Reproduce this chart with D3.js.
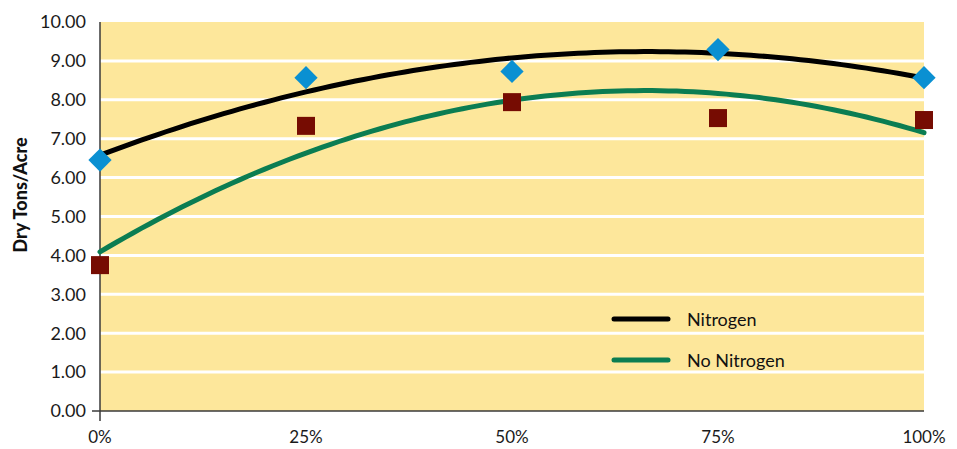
<!DOCTYPE html>
<html>
<head>
<meta charset="utf-8">
<script src="https://cdn.jsdelivr.net/npm/d3@7"></script>
<style>
  html, body { margin: 0; padding: 0; background: #ffffff; }
  svg { display: block; font-family: Lato, "Open Sans", sans-serif; }
</style>
</head>
<body>
<svg id="chart" width="957" height="449"></svg>
<script>
// Nitrogen application rate (share of recommended) and yield in dry tons per acre
const rates = [0, 25, 50, 75, 100];
const rateLabels = ["0%", "25%", "50%", "75%", "100%"];
const nitrogenYield = [6.45, 8.57, 8.73, 9.29, 8.57];
const noNitrogenYield = [3.75, 7.33, 7.94, 7.53, 7.48];
const yTicks = [0, 1, 2, 3, 4, 5, 6, 7, 8, 9, 10];

const svg = d3.select("#chart");
const margin = { left: 100, right: 33, top: 22, bottom: 38 };
const W = 957, H = 449;

const x = d3.scaleLinear().domain([0, 100]).range([margin.left, W - margin.right]);
const y = d3.scaleLinear().domain([0, 10]).range([H - margin.bottom, margin.top]);

// Least-squares quadratic trendline through a series
function quadFit(xs, ys) {
  let s = [0, 0, 0, 0, 0], t = [0, 0, 0];
  xs.forEach((xv, i) => {
    for (let k = 0; k <= 4; k++) s[k] += Math.pow(xv, k);
    for (let k = 0; k <= 2; k++) t[k] += Math.pow(xv, k) * ys[i];
  });
  const A = [[s[0], s[1], s[2], t[0]], [s[1], s[2], s[3], t[1]], [s[2], s[3], s[4], t[2]]];
  for (let i = 0; i < 3; i++) {
    for (let j = i + 1; j < 3; j++) {
      const f = A[j][i] / A[i][i];
      for (let k = i; k < 4; k++) A[j][k] -= f * A[i][k];
    }
  }
  const c = [0, 0, 0];
  for (let i = 2; i >= 0; i--) {
    let v = A[i][3];
    for (let k = i + 1; k < 3; k++) v -= A[i][k] * c[k];
    c[i] = v / A[i][i];
  }
  return xv => c[0] + c[1] * xv + c[2] * xv * xv;
}

// Plot background
svg.append("rect")
  .attr("x", x(0)).attr("y", y(10))
  .attr("width", x(100) - x(0)).attr("height", y(0) - y(10))
  .attr("fill", "#fde79b");

// White horizontal gridlines
svg.append("g").selectAll("line")
  .data(yTicks.filter(d => d > 0 && d < 10))
  .join("line")
  .attr("x1", x(0)).attr("x2", x(100))
  .attr("y1", d => y(d)).attr("y2", d => y(d))
  .attr("stroke", "#ffffff").attr("stroke-width", 3);

// Y axis labels
svg.append("g").selectAll("text")
  .data(yTicks)
  .join("text")
  .attr("x", x(0) - 14).attr("y", d => y(d))
  .attr("dy", "0.35em")
  .attr("text-anchor", "end")
  .attr("font-size", 18)
  .attr("fill", "#1a1a1a")
  .text(d => d.toFixed(2));

// X axis labels
svg.append("g").selectAll("text")
  .data(rates)
  .join("text")
  .attr("x", d => x(d)).attr("y", y(0) + 32)
  .attr("text-anchor", "middle")
  .attr("font-size", 17)
  .attr("fill", "#1a1a1a")
  .text((d, i) => rateLabels[i]);

// Axis lines
svg.append("line")
  .attr("x1", x(0)).attr("x2", x(0))
  .attr("y1", y(10)).attr("y2", y(0) + 10)
  .attr("stroke", "#3a3a3a").attr("stroke-width", 1.5);
svg.append("line")
  .attr("x1", x(0) - 8).attr("x2", x(100))
  .attr("y1", y(0)).attr("y2", y(0))
  .attr("stroke", "#3a3a3a").attr("stroke-width", 1.5);

// Y axis title
svg.append("text")
  .attr("transform", "translate(27, 195) rotate(-90)")
  .attr("text-anchor", "middle")
  .attr("font-size", 18)
  .attr("font-weight", "900")
  .attr("fill", "#111")
  .text("Dry Tons/Acre");

// Trendlines
const series = [
  { values: nitrogenYield, color: "#000000" },
  { values: noNitrogenYield, color: "#0b7d52" }
];
const line = d3.line().x(d => x(d[0])).y(d => y(d[1])).curve(d3.curveLinear);
series.forEach(s => {
  const f = quadFit(rates, s.values);
  const pts = d3.range(0, 100.5, 1).map(r => [r, f(r)]);
  svg.append("path")
    .attr("d", line(pts))
    .attr("fill", "none")
    .attr("stroke", s.color)
    .attr("stroke-width", 5)
    .attr("stroke-linecap", "round");
});

// Markers: diamonds for Nitrogen, squares for No Nitrogen
svg.append("g").selectAll("path")
  .data(rates.map((r, i) => [r, nitrogenYield[i]]))
  .join("path")
  .attr("d", d3.symbol().type(d3.symbolSquare).size(270))
  .attr("transform", d => `translate(${x(d[0])},${y(d[1])}) rotate(45)`)
  .attr("fill", "#0a90d2");

svg.append("g").selectAll("rect")
  .data(rates.map((r, i) => [r, noNitrogenYield[i]]))
  .join("rect")
  .attr("x", d => x(d[0]) - 9).attr("y", d => y(d[1]) - 9)
  .attr("width", 18).attr("height", 18)
  .attr("fill", "#760c02");

// Legend
const legend = [
  { label: "Nitrogen", color: "#000000", yPos: 319 },
  { label: "No Nitrogen", color: "#0b7d52", yPos: 360 }
];
const lg = svg.append("g");
legend.forEach(l => {
  lg.append("line")
    .attr("x1", 614).attr("x2", 668)
    .attr("y1", l.yPos).attr("y2", l.yPos)
    .attr("stroke", l.color).attr("stroke-width", 5)
    .attr("stroke-linecap", "round");
  lg.append("text")
    .attr("x", 687).attr("y", l.yPos + 1)
    .attr("dy", "0.35em")
    .attr("font-size", 18)
    .attr("fill", "#111")
    .text(l.label);
});
</script>
</body>
</html>
